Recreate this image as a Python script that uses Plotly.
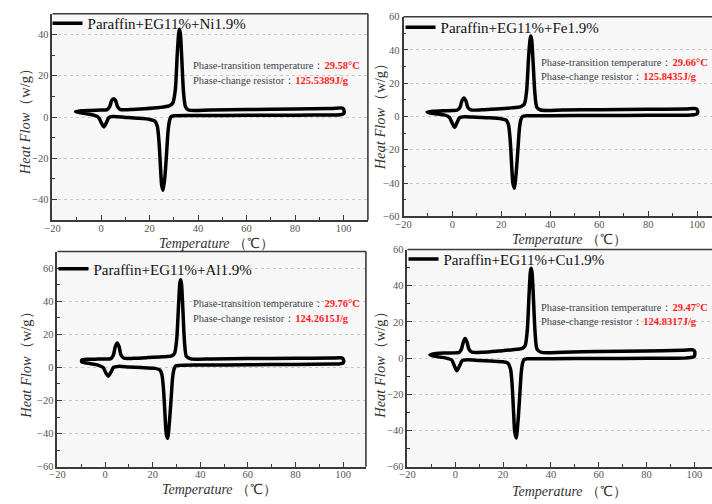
import plotly.graph_objects as go

# ---- DSC loops (heating branch left->right, then cooling branch right->left) ----
T_NI = [-10.5, -8, -4, 0, 2.5, 3.6, 4.4, 5.2, 6.0, 6.8, 8, 12, 18, 24, 28, 29.6, 30.6, 31.4, 32.0, 32.3,
        32.7, 33.3, 34.0, 34.8, 36, 45, 60, 80, 95, 99.5, 100.2, 100.0, 98.5, 96, 80, 60, 40, 30, 29.0, 28.3,
        27.7, 27.1, 26.4, 25.6, 25.0, 24.5, 23.9, 23.2, 22.2, 20, 15, 10, 5, 3.2, 2.3, 1.2, 0.2, -1, -3, -6,
        -9, -10.5]
HF_NI = [2.6, 3.0, 3.2, 3.4, 3.6, 5.0, 8.0, 8.9, 8.0, 5.0, 3.6, 3.6, 4.0, 4.6, 5.4, 6.8, 13, 30, 40.5, 42.5,
         40.5, 28, 12, 5, 3.4, 3.4, 3.6, 3.9, 4.1, 4.3, 3.0, 1.6, 1.1, 1.0, 0.9, 0.8, 0.7, 0.6, 0.3, -1.5,
         -6, -16, -28, -35.5, -33, -24, -12, -4.5, -2.0, -1.2, -0.6, -0.2, 0.2, -0.3, -2.5, -4.8, -3.0, -0.2,
         0.9, 1.6, 2.2, 2.6]

T_FE = [-10.3, -8, -4, 0, 2.0, 3.1, 3.9, 4.7, 5.5, 6.3, 7.5, 12, 18, 24, 28, 29.4, 30.3, 31.1, 31.7, 32.0,
        32.4, 33.0, 33.7, 34.5, 36, 45, 60, 80, 95, 99.5, 100.2, 100.0, 98.5, 96, 80, 60, 40, 30, 28.7, 28.0,
        27.4, 26.8, 26.1, 25.3, 24.7, 24.2, 23.6, 22.9, 22.0, 20, 15, 10, 5, 3.0, 2.0, 0.9, -0.1, -1.3, -3, -6,
        -9, -10.3]
HF_FE = [2.7, 3.2, 3.4, 3.6, 3.9, 5.5, 9.5, 11.2, 9.5, 5.5, 4.0, 4.0, 4.5, 5.2, 6.0, 7.5, 15, 35, 46, 48.4,
         46, 32, 14, 5.5, 3.9, 3.9, 4.1, 4.3, 4.5, 4.7, 3.5, 1.6, 1.0, 0.8, 0.7, 0.6, 0.5, 0.4, 0.1, -1.8,
         -7, -19, -33, -43.1, -40, -29, -14, -5, -2.2, -1.4, -0.8, -0.5, -0.1, -0.6, -3.2, -6.5, -4.0, -0.5,
         0.8, 1.5, 2.1, 2.7]

T_AL = [-9.8, -7, -3, 0, 2.4, 3.5, 4.3, 5.1, 5.9, 6.7, 8, 12, 18, 24, 28, 29.2, 30.1, 30.9, 31.4, 31.7,
        32.1, 32.7, 33.4, 34.2, 36, 45, 60, 80, 95, 99.5, 100.2, 100.0, 98.5, 96, 80, 60, 40, 31, 29.7, 29.0,
        28.4, 27.8, 27.1, 26.3, 25.7, 25.2, 24.6, 23.9, 23.0, 21, 15, 10, 5.5, 3.6, 2.6, 1.4, 0.4, -0.8, -3, -6,
        -8.5, -9.8, -9.8]
HF_AL = [4.4, 4.9, 5.0, 5.1, 5.3, 7.5, 12.5, 14.8, 12.5, 7.5, 5.5, 5.5, 5.9, 6.4, 7.0, 8.5, 17, 38, 50.5, 52.9,
         50.5, 35, 15, 6.5, 5.1, 5.1, 5.3, 5.5, 5.6, 5.7, 4.5, 2.6, 2.1, 2.0, 1.8, 1.6, 1.4, 1.2, 0.9, -1.0,
         -6, -18, -32, -42.8, -40, -29, -14, -4.5, -1.5, -0.6, -0.1, 0.2, 0.6, 0.1, -2.5, -5.3, -3.5, -0.1,
         1.4, 2.2, 2.8, 3.3, 4.4]

T_CU = [-10.6, -8, -4, 0, 1.6, 2.6, 3.4, 4.1, 4.9, 5.7, 7, 12, 18, 24, 28, 29.2, 30.1, 30.9, 31.4, 31.7,
        32.1, 32.7, 33.4, 34.2, 36, 45, 60, 80, 95, 99.5, 100.2, 100.0, 98.5, 96, 80, 60, 40, 30, 28.9, 28.2,
        27.6, 27.0, 26.3, 25.5, 24.9, 24.4, 23.8, 23.1, 22.0, 20, 15, 10, 5, 2.9, 1.9, 0.7, -0.3, -1.5, -3, -6,
        -9, -10.6]
HF_CU = [1.8, 2.6, 2.8, 2.9, 3.1, 5.0, 9.0, 10.8, 9.0, 5.0, 3.3, 3.3, 3.9, 4.6, 5.4, 6.8, 15, 36, 47.5, 49.7,
         47.5, 33, 14, 5, 3.2, 3.3, 3.6, 4.0, 4.3, 4.5, 3.5, 1.0, 0.3, 0.0, -0.1, -0.2, -0.3, -0.4, -0.7, -2.6,
         -8, -20, -34, -44.1, -41, -30, -15, -6, -2.8, -2.0, -1.6, -1.3, -0.9, -1.4, -4.0, -7.0, -4.5, -1.0,
         -0.2, 0.5, 1.1, 1.8]

SAMPLES = ["Paraffin+EG11%+Ni1.9%", "Paraffin+EG11%+Fe1.9%", "Paraffin+EG11%+Al1.9%", "Paraffin+EG11%+Cu1.9%"]
TRANSITION_T = ["29.58°C", "29.66°C", "29.76°C", "29.47°C"]
LATENT_HEAT = ["125.5389J/g", "125.8435J/g", "124.2615J/g", "124.8317J/g"]
X_TICKS = [-20, 0, 20, 40, 60, 80, 100]

W, H = 712, 504
SERIF = "Liberation Serif, Times New Roman, serif"


def fx(px):
    return px / W


def fy(py):
    return 1 - py / H


# pixel frame of each panel: left, top, right, bottom; plus axis ranges
frames = [
    dict(box=(45, 9, 364, 220), xr=[-20, 110], yr=[-50, 50], yt=[-40, -20, 0, 20, 40], closed=True),
    dict(box=(400, 12, 712, 216), xr=[-20, 106.1], yr=[-60, 60], yt=[-60, -40, -20, 0, 20, 40, 60], closed=False),
    dict(box=(50, 252, 362, 472), xr=[-20, 109.6], yr=[-60, 70], yt=[-60, -40, -20, 0, 20, 40, 60], closed=True),
    dict(box=(404, 250, 712, 472), xr=[-20, 107.4], yr=[-60, 60], yt=[-60, -40, -20, 0, 20, 40, 60], closed=False),
]
loops = [(T_NI, HF_NI), (T_FE, HF_FE), (T_AL, HF_AL), (T_CU, HF_CU)]

# text placement (pixels): info block left/top-line/second-line, y-title x/center, x-title left/y, legend
texts = [
    dict(info=(185, 62, 77), ytitle=(18, 116), xtitle=(151, 244), legend=(40, 19)),
    dict(info=(537, 59, 73), ytitle=(376, 111), xtitle=(508, 240), legend=(397, 23)),
    dict(info=(185, 305, 321), ytitle=(18, 365), xtitle=(154, 495), legend=(46, 270)),
    dict(info=(537, 309, 324), ytitle=(376, 365), xtitle=(508, 497), legend=(400, 260)),
]

fig = go.Figure()
layout = dict(
    width=W, height=H, margin=dict(l=0, r=0, t=0, b=0),
    paper_bgcolor="white", plot_bgcolor="#f7f7f7", showlegend=True,
)
shapes, annotations = [], []
AX_COLOR = "#3a3a3a"

for i, (fr, (T, HF), tx) in enumerate(zip(frames, loops, texts)):
    k = "" if i == 0 else str(i + 1)
    l, t, r, b = fr["box"]
    fig.add_trace(go.Scatter(
        x=T, y=HF, mode="lines", name=SAMPLES[i],
        line=dict(color="black", width=3.5, shape="spline", smoothing=0.7),
        xaxis="x" + k, yaxis="y" + k, legend="legend" + k,
    ))
    layout["xaxis" + k] = dict(
        domain=[fx(l), fx(r)], range=fr["xr"], anchor="y" + k,
        tickvals=X_TICKS, ticks="inside", ticklen=5, tickwidth=1.3, tickcolor=AX_COLOR,
        minor=dict(dtick=10, tick0=0, ticks="inside", ticklen=3, tickcolor=AX_COLOR),
        showline=True, linecolor=AX_COLOR, linewidth=1.6, showgrid=False, zeroline=False,
        ticklabelstandoff=-3,
        tickfont=dict(family=SERIF, size=10.5, color="#555555"),
    )
    layout["yaxis" + k] = dict(
        domain=[fy(b), fy(t)], range=fr["yr"], anchor="x" + k,
        tickvals=fr["yt"], ticks="inside", ticklen=5, tickwidth=1.3, tickcolor=AX_COLOR,
        minor=dict(dtick=10, tick0=0, ticks="inside", ticklen=3, tickcolor=AX_COLOR),
        showline=True, linecolor=AX_COLOR, linewidth=1.6, zeroline=False,
        showgrid=True, gridcolor="#c9c9c9", griddash="dot", gridwidth=1,
        tickfont=dict(family=SERIF, size=10.5, color="#555555"),
    )
    # top edge (and right edge where the frame is complete)
    shapes.append(dict(type="line", xref="paper", yref="paper", x0=fx(l), x1=fx(r), y0=fy(t), y1=fy(t),
                       line=dict(color=AX_COLOR, width=1.6)))
    if fr["closed"]:
        shapes.append(dict(type="line", xref="paper", yref="paper", x0=fx(r), x1=fx(r), y0=fy(t), y1=fy(b),
                           line=dict(color=AX_COLOR, width=1.6)))
    lx, ly = tx["legend"]
    layout["legend" + k] = dict(
        x=fx(lx), y=fy(ly), xanchor="left", yanchor="middle", bgcolor="rgba(0,0,0,0)",
        font=dict(family=SERIF, size=15, color="#111111"), itemwidth=30,
    )
    ix, iy1, iy2 = tx["info"]
    annotations.append(dict(
        xref="paper", yref="paper", x=fx(ix), y=fy(iy1), xanchor="left", yanchor="middle", showarrow=False,
        text="Phase-transition temperature：<b><span style='color:#ff1a1a'>%s</span></b>" % TRANSITION_T[i],
        font=dict(family=SERIF, size=10.5, color="#3b4350"),
    ))
    annotations.append(dict(
        xref="paper", yref="paper", x=fx(ix), y=fy(iy2), xanchor="left", yanchor="middle", showarrow=False,
        text="Phase-change resistor：<b><span style='color:#ff1a1a'>%s</span></b>" % LATENT_HEAT[i],
        font=dict(family=SERIF, size=10.5, color="#3b4350"),
    ))
    yx, yc = tx["ytitle"]
    annotations.append(dict(
        xref="paper", yref="paper", x=fx(yx), y=fy(yc), xanchor="center", yanchor="middle", showarrow=False,
        textangle=-90, text="<i>Heat Flow</i>（w/g）",
        font=dict(family=SERIF, size=14.5, color="#333333"),
    ))
    xl, xy = tx["xtitle"]
    annotations.append(dict(
        xref="paper", yref="paper", x=fx(xl), y=fy(xy), xanchor="left", yanchor="middle", showarrow=False,
        text="<i>Temperature</i> （℃）",
        font=dict(family=SERIF, size=14, color="#333333"),
    ))

layout["shapes"] = shapes
layout["annotations"] = annotations
fig.update_layout(**layout)
fig.write_html("out.html")
